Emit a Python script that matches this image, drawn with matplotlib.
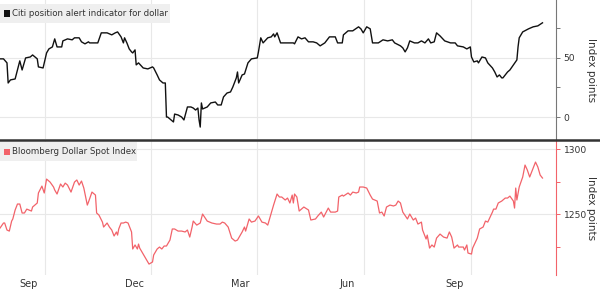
import matplotlib
matplotlib.use("Agg")
import matplotlib.pyplot as plt
import matplotlib.transforms as mtransforms
from matplotlib.lines import Line2D
from matplotlib.patches import Rectangle
import pandas as pd

# ---- data ----
citi_dates = [
    "2015-07-24","2015-07-27","2015-07-30","2015-07-31","2015-08-02","2015-08-06","2015-08-08","2015-08-10",
    "2015-08-12","2015-08-15","2015-08-19","2015-08-21","2015-08-25","2015-08-26","2015-08-30","2015-09-02",
    "2015-09-04","2015-09-07","2015-09-09","2015-09-11","2015-09-15","2015-09-16","2015-09-20","2015-09-24",
    "2015-09-26","2015-09-30","2015-10-02","2015-10-05","2015-10-08","2015-10-09","2015-10-16","2015-10-19",
    "2015-10-24","2015-10-28","2015-10-31","2015-11-02","2015-11-05","2015-11-07","2015-11-08","2015-11-10",
    "2015-11-12","2015-11-14","2015-11-15","2015-11-17","2015-11-18","2015-11-20","2015-11-24","2015-11-28",
    "2015-12-02","2015-12-03","2015-12-06","2015-12-08","2015-12-11","2015-12-13","2015-12-14","2015-12-15",
    "2015-12-18","2015-12-20","2015-12-21","2015-12-24","2015-12-27","2015-12-29","2016-01-01","2016-01-04",
    "2016-01-06","2016-01-08","2016-01-10","2016-01-11","2016-01-12","2016-01-13","2016-01-14","2016-01-18",
    "2016-01-21","2016-01-25","2016-01-27","2016-01-30","2016-02-01","2016-02-04","2016-02-07","2016-02-09",
    "2016-02-12","2016-02-13","2016-02-14","2016-02-17","2016-02-19","2016-02-22","2016-02-25","2016-03-01",
    "2016-03-02","2016-03-04","2016-03-06","2016-03-10","2016-03-13","2016-03-15","2016-03-16","2016-03-18",
    "2016-03-21","2016-03-25","2016-03-29","2016-04-01","2016-04-02","2016-04-05","2016-04-08","2016-04-11",
    "2016-04-14","2016-04-18","2016-04-21","2016-04-24","2016-04-28","2016-05-02","2016-05-07","2016-05-09",
    "2016-05-13","2016-05-14","2016-05-18","2016-05-22","2016-05-27","2016-05-29","2016-05-31","2016-06-03",
    "2016-06-06","2016-06-08","2016-06-13","2016-06-17","2016-06-21","2016-06-25","2016-06-27","2016-07-02",
    "2016-07-04","2016-07-06","2016-07-08","2016-07-10","2016-07-14","2016-07-17","2016-07-20","2016-07-23",
    "2016-07-26","2016-07-28","2016-07-31","2016-08-02","2016-08-05","2016-08-09","2016-08-14","2016-08-18",
    "2016-08-20","2016-08-25","2016-08-28","2016-08-31","2016-09-01","2016-09-03","2016-09-06","2016-09-07",
    "2016-09-10","2016-09-13","2016-09-15","2016-09-19","2016-09-21","2016-09-23","2016-09-25","2016-09-27",
    "2016-09-28","2016-10-02","2016-10-04","2016-10-07","2016-10-10","2016-10-11","2016-10-12","2016-10-15",
    "2016-10-20","2016-10-24","2016-10-28","2016-11-01",
]
citi_values = [
    49.2, 49.2, 45.8, 28.8, 31.4, 32.2, 39.8, 47.5,
    39.8, 50.0, 50.8, 52.5, 49.2, 42.4, 41.5, 54.2,
    57.6, 59.3, 66.1, 59.3, 59.3, 64.4, 66.1, 65.3,
    67.0, 67.0, 63.6, 61.9, 63.6, 62.7, 62.7, 71.2,
    71.2, 69.5, 71.2, 72.0, 67.8, 62.7, 67.0, 62.7,
    57.6, 55.1, 54.2, 56.8, 44.1, 45.8, 41.5, 40.7,
    42.4, 41.5, 35.6, 31.4, 28.8, 28.8, 0.0, 0.0,
    -2.5, -4.2, 2.5, 1.7, 0.0, -2.5, 8.5, 8.5,
    7.6, 5.9, 7.6, -2.5, -8.5, 11.9, 6.8, 8.5,
    11.9, 12.7, 10.2, 10.2, 17.0, 20.3, 21.2, 25.4,
    33.1, 38.1, 28.8, 35.6, 36.4, 45.8, 49.2, 50.0,
    55.1, 67.0, 62.7, 67.0, 67.8, 70.3, 67.8, 71.2,
    62.7, 62.7, 62.7, 62.7, 61.9, 67.8, 66.1, 67.0,
    63.6, 63.6, 62.7, 60.2, 62.7, 67.8, 67.8, 62.7,
    62.7, 69.5, 72.9, 72.9, 76.3, 74.6, 71.2, 76.3,
    74.6, 62.7, 62.7, 65.3, 64.4, 65.3, 62.7, 60.2,
    58.5, 55.1, 58.5, 64.4, 62.7, 62.7, 64.4, 62.7,
    66.1, 62.7, 63.6, 71.2, 68.6, 64.4, 62.7, 62.7,
    60.2, 59.3, 57.6, 59.3, 50.8, 46.6, 47.5, 45.8,
    50.8, 50.0, 45.8, 41.5, 38.1, 33.9, 35.6, 33.1,
    33.1, 38.1, 39.8, 44.1, 48.3, 59.3, 67.0, 72.0,
    74.6, 76.3, 77.1, 79.7,
]

bbdxy_dates = [
    "2015-07-24","2015-07-27","2015-07-28","2015-07-30","2015-08-01","2015-08-03","2015-08-04","2015-08-06",
    "2015-08-08","2015-08-10","2015-08-12","2015-08-14","2015-08-16","2015-08-20","2015-08-21","2015-08-25",
    "2015-08-26","2015-08-29","2015-08-31","2015-09-02","2015-09-05","2015-09-08","2015-09-09","2015-09-11",
    "2015-09-14","2015-09-16","2015-09-18","2015-09-20","2015-09-23","2015-09-26","2015-09-28","2015-09-30",
    "2015-10-02","2015-10-04","2015-10-07","2015-10-08","2015-10-11","2015-10-14","2015-10-15","2015-10-17",
    "2015-10-20","2015-10-21","2015-10-24","2015-10-26","2015-10-28","2015-10-30","2015-11-01","2015-11-02",
    "2015-11-03","2015-11-05","2015-11-07","2015-11-09","2015-11-11","2015-11-14","2015-11-15","2015-11-17",
    "2015-11-19","2015-11-20","2015-11-21","2015-11-24","2015-11-26","2015-11-29","2015-12-02","2015-12-03",
    "2015-12-06","2015-12-08","2015-12-10","2015-12-12","2015-12-14","2015-12-17","2015-12-19","2015-12-21",
    "2015-12-24","2015-12-27","2015-12-30","2016-01-01","2016-01-03","2016-01-05","2016-01-06","2016-01-09",
    "2016-01-12","2016-01-14","2016-01-18","2016-01-22","2016-01-26","2016-01-29","2016-01-31","2016-02-02",
    "2016-02-05","2016-02-08","2016-02-11","2016-02-13","2016-02-17","2016-02-19","2016-02-20","2016-02-23",
    "2016-02-25","2016-02-28","2016-03-02","2016-03-05","2016-03-08","2016-03-10","2016-03-13","2016-03-15",
    "2016-03-18","2016-03-20","2016-03-22","2016-03-25","2016-03-27","2016-03-29","2016-03-31","2016-04-01",
    "2016-04-02","2016-04-04","2016-04-06","2016-04-08","2016-04-10","2016-04-14","2016-04-16","2016-04-20",
    "2016-04-22","2016-04-25","2016-04-27","2016-05-01","2016-05-03","2016-05-07","2016-05-09","2016-05-10",
    "2016-05-13","2016-05-14","2016-05-18","2016-05-20","2016-05-22","2016-05-25","2016-05-27","2016-05-28",
    "2016-05-31","2016-06-03","2016-06-06","2016-06-08","2016-06-12","2016-06-14","2016-06-16","2016-06-18",
    "2016-06-20","2016-06-23","2016-06-26","2016-06-28","2016-06-30","2016-07-02","2016-07-04","2016-07-08",
    "2016-07-10","2016-07-13","2016-07-15","2016-07-17","2016-07-20","2016-07-21","2016-07-24","2016-07-25",
    "2016-07-27","2016-07-29","2016-07-31","2016-08-02","2016-08-05","2016-08-08","2016-08-11","2016-08-13",
    "2016-08-15","2016-08-17","2016-08-20","2016-08-21","2016-08-25","2016-08-26","2016-08-28","2016-08-29",
    "2016-09-01","2016-09-02","2016-09-06","2016-09-08","2016-09-11","2016-09-13","2016-09-15","2016-09-19",
    "2016-09-20","2016-09-22","2016-09-24","2016-09-27","2016-09-30","2016-10-02","2016-10-04","2016-10-07",
    "2016-10-08","2016-10-09","2016-10-10","2016-10-12","2016-10-15","2016-10-17","2016-10-19","2016-10-21",
    "2016-10-24","2016-10-26","2016-10-28","2016-10-30","2016-11-01",
]
bbdxy_values = [
    1239.2, 1243.1, 1243.1, 1237.7, 1236.9, 1244.6, 1246.2, 1253.1,
    1257.7, 1257.7, 1250.8, 1250.8, 1253.8, 1252.3, 1255.4, 1258.5,
    1266.2, 1271.5, 1266.2, 1276.9, 1274.6, 1270.8, 1268.5, 1265.4,
    1273.1, 1270.8, 1273.8, 1272.3, 1266.9, 1274.6, 1276.2, 1272.3,
    1275.4, 1270.0, 1256.9, 1259.2, 1266.9, 1264.6, 1250.8, 1249.2,
    1243.8, 1240.0, 1243.1, 1240.0, 1237.7, 1233.1, 1236.2, 1233.8,
    1238.5, 1243.1, 1243.1, 1243.8, 1243.1, 1236.2, 1223.1, 1226.2,
    1223.1, 1226.9, 1223.8, 1219.2, 1216.2, 1211.5, 1213.1, 1218.5,
    1223.1, 1224.6, 1223.1, 1225.4, 1225.4, 1230.0, 1238.5, 1238.5,
    1236.9, 1236.9, 1236.2, 1237.7, 1232.3, 1240.0, 1244.6, 1241.5,
    1243.1, 1250.0, 1244.6, 1243.1, 1242.3, 1242.3, 1243.8, 1243.1,
    1240.0, 1231.5, 1229.2, 1230.0, 1236.2, 1240.0, 1236.9, 1246.2,
    1243.8, 1244.6, 1248.5, 1243.8, 1243.1, 1241.5, 1250.8, 1256.9,
    1265.4, 1263.1, 1263.1, 1260.8, 1262.3, 1258.5, 1264.6, 1258.5,
    1265.4, 1263.1, 1252.3, 1253.8, 1255.4, 1253.1, 1245.4, 1246.2,
    1248.5, 1251.5, 1247.7, 1254.6, 1251.5, 1251.5, 1252.3, 1263.1,
    1264.6, 1263.8, 1266.2, 1264.6, 1266.9, 1266.2, 1266.9, 1270.8,
    1270.8, 1270.0, 1264.6, 1261.5, 1260.0, 1250.8, 1251.5, 1248.5,
    1255.4, 1256.9, 1256.2, 1256.9, 1260.0, 1258.5, 1251.5, 1246.2,
    1250.0, 1245.4, 1246.9, 1242.3, 1243.8, 1237.7, 1230.8, 1233.8,
    1223.8, 1226.2, 1224.6, 1231.5, 1234.6, 1232.3, 1231.5, 1236.2,
    1232.3, 1223.8, 1226.2, 1224.6, 1224.6, 1222.3, 1226.2, 1220.0,
    1219.2, 1223.8, 1231.5, 1238.5, 1240.0, 1244.6, 1243.8, 1251.5,
    1253.8, 1253.8, 1258.5, 1260.0, 1262.3, 1262.3, 1263.8, 1260.0,
    1254.6, 1270.0, 1260.8, 1270.8, 1278.5, 1287.7, 1283.8, 1278.5,
    1285.4, 1290.0, 1286.2, 1280.0, 1277.7,
]

month_ticks = ["2015-09-01", "2015-12-01", "2016-03-01", "2016-06-01", "2016-09-01"]
month_labels = ["Sep", "Dec", "Mar", "Jun", "Sep"]
top_major = [0, 50]
top_minor = [25, 75]
bot_major = [1250, 1300]
bot_minor = [1225, 1275]

citi_label = "Citi position alert indicator for dollar"
bbdxy_label = "Bloomberg Dollar Spot Index"
y_title = "Index points"

# ---- plotting ----
W, H = 600, 290
fig = plt.figure(figsize=(W / 100, H / 100), dpi=100)
fig.patch.set_facecolor("white")

ax_right = 556 / W
ax1 = fig.add_axes([0, 1 - 139 / H, ax_right, 139 / H])
ax2 = fig.add_axes([0, 1 - 275 / H, ax_right, 134 / H])

cd = pd.to_datetime(citi_dates)
bd = pd.to_datetime(bbdxy_dates)
ticks = pd.to_datetime(month_ticks)

red = "#f2636a"
grid_c = "#e8e8e8"
text_c = "#333333"

ax1.plot(cd, citi_values, color="#111111", lw=1.0, zorder=3)
ax2.plot(bd, bbdxy_values, color=red, lw=0.9, zorder=3)

xmin = pd.Timestamp("2015-07-24")
xmax = xmin + pd.Timedelta(days=556 * 0.859)

for ax in (ax1, ax2):
    ax.set_xlim(xmin, xmax)
    ax.set_facecolor("white")
    for s in ("left", "top", "bottom"):
        ax.spines[s].set_visible(False)
    ax.set_xticks(ticks)
    ax.grid(True, axis="both", which="major", color=grid_c, lw=0.8, zorder=0)
    ax.yaxis.tick_right()
    ax.tick_params(axis="y", which="both", direction="out", length=3, width=0.7,
                   labelsize=6.6, pad=2.5, labelcolor=text_c)
    ax.tick_params(axis="x", length=0)

ax1.set_ylim(-18.6, 99)
ax1.set_yticks(top_major)
ax1.set_yticks(top_minor, minor=True)
ax1.spines["right"].set_color("#777777")
ax1.tick_params(axis="y", which="both", color="#777777")
ax1.set_xticklabels([])

ax2.set_ylim(1203.1, 1306.2)
ax2.set_yticks(bot_major)
ax2.set_yticks(bot_minor, minor=True)
ax2.spines["right"].set_color(red)
ax2.tick_params(axis="y", which="both", color=red)
ax2.set_xticklabels(month_labels, fontsize=7, color=text_c)
ax2.tick_params(axis="x", pad=3)
offset = mtransforms.ScaledTranslation(-17 / 100, 0, fig.dpi_scale_trans)
for lab in ax2.get_xticklabels():
    lab.set_transform(lab.get_transform() + offset)

# separator between the panels
fig.add_artist(Line2D([0, 1], [1 - 139.5 / H, 1 - 139.5 / H], transform=fig.transFigure,
                      color="#333333", lw=1.8))

# axis titles
fig.text(591 / W, 1 - 70 / H, y_title, rotation=270, ha="center", va="center",
         fontsize=7.5, color=text_c)
fig.text(591 / W, 1 - 208 / H, y_title, rotation=270, ha="center", va="center",
         fontsize=7.5, color=text_c)

# legend-like labels
def legend_box(y_px_top, height_px, width_px, color, text):
    fig.add_artist(Rectangle((0, 1 - (y_px_top + height_px) / H), width_px / W, height_px / H,
                             transform=fig.transFigure, facecolor="#efefef", edgecolor="none", zorder=5))
    fig.add_artist(Rectangle((4 / W, 1 - (y_px_top + height_px / 2 + 3) / H), 6 / W, 6 / H,
                             transform=fig.transFigure, facecolor=color, edgecolor="none", zorder=6))
    fig.text(12 / W, 1 - (y_px_top + height_px / 2) / H, text, ha="left", va="center",
             fontsize=6.2, color=text_c, zorder=6)

legend_box(4, 19, 170, "#111111", citi_label)
legend_box(142, 19, 137, red, bbdxy_label)

fig.savefig("out.png", dpi=100)
